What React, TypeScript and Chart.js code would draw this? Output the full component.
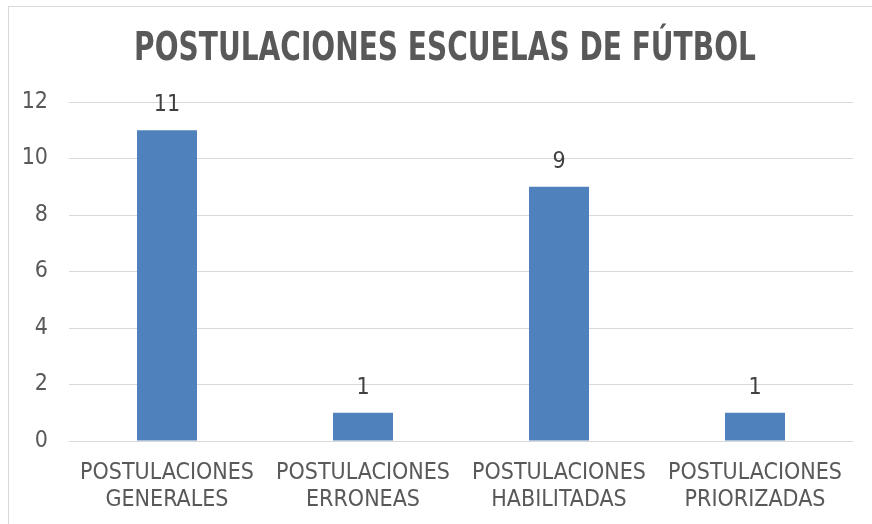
import React, { useEffect, useRef } from "react";
import { Chart, registerables } from "chart.js";

Chart.register(...registerables);

const TITLE = "POSTULACIONES ESCUELAS DE FÚTBOL";
const categories: string[][] = [
  ["POSTULACIONES", "GENERALES"],
  ["POSTULACIONES", "ERRONEAS"],
  ["POSTULACIONES", "HABILITADAS"],
  ["POSTULACIONES", "PRIORIZADAS"],
];
const values: number[] = [11, 1, 9, 1];
const yTicks = { min: 0, max: 12, step: 2 };

const FONT = "'Liberation Sans Narrow', 'Arial Narrow', 'DejaVu Sans Condensed', sans-serif";
const TEXT = "#595959";

const dataLabels = {
  id: "dataLabels",
  afterDatasetsDraw(chart: any) {
    const ctx = chart.ctx;
    const meta = chart.getDatasetMeta(0);
    ctx.save();
    ctx.font = `23px ${FONT}`;
    ctx.fillStyle = "#404040";
    ctx.textAlign = "center";
    ctx.textBaseline = "middle";
    meta.data.forEach((bar: any, i: number) => {
      ctx.fillText(String(chart.data.datasets[0].data[i]), bar.x, bar.y - 25);
    });
    ctx.restore();
  },
};

const narrowTitle = {
  id: "narrowTitle",
  afterDraw(chart: any) {
    const ctx = chart.ctx;
    ctx.save();
    ctx.font = `bold 39px ${FONT}`;
    ctx.fillStyle = TEXT;
    ctx.textAlign = "center";
    ctx.textBaseline = "middle";
    ctx.translate(chart.width / 2 + 9, 50);
    ctx.scale(0.8, 1);
    ctx.fillText(TITLE, 0, 0);
    ctx.restore();
  },
};

export default function App() {
  const ref = useRef<HTMLCanvasElement | null>(null);
  useEffect(() => {
    document.body.style.overflow = "hidden";
    const chart = new Chart(ref.current!, {
      type: "bar",
      data: {
        labels: categories,
        datasets: [
          {
            data: values,
            backgroundColor: "#4F81BD",
            categoryPercentage: 1,
            barPercentage: 0.306,
          },
        ],
      },
      options: {
        animation: false,
        responsive: false,
        layout: { padding: { left: 0, right: 19, top: 102, bottom: 0 } },
        plugins: {
          legend: { display: false },
          tooltip: { enabled: false },
          title: { display: false },
        },
        scales: {
          x: {
            grid: { display: false, drawTicks: false },
            border: { display: false },
            ticks: {
              color: TEXT,
              font: { family: FONT, size: 23, lineHeight: 1.2 },
              padding: 18,
              maxRotation: 0,
              autoSkip: false,
            },
            afterFit(scale: any) {
              scale.height = 83;
            },
          },
          y: {
            min: yTicks.min,
            max: yTicks.max,
            grid: { color: "#d9d9d9", lineWidth: 1, drawTicks: false },
            border: { display: false },
            ticks: {
              stepSize: yTicks.step,
              color: TEXT,
              font: { family: FONT, size: 23 },
              padding: 21,
            },
            afterFit(scale: any) {
              scale.width = 69;
            },
          },
        },
      },
      plugins: [dataLabels, narrowTitle],
    });
    return () => chart.destroy();
  }, []);
  return (
    <>
      <div
        style={{
          position: "fixed",
          left: 8,
          top: 6,
          width: 2000,
          height: 2000,
          borderLeft: "1px solid #d9d9d9",
          borderTop: "1px solid #d9d9d9",
        }}
      />
      <canvas
        ref={ref}
        width={872}
        height={524}
        style={{ position: "fixed", left: 0, top: 0, width: 872, height: 524 }}
      />
    </>
  );
}
